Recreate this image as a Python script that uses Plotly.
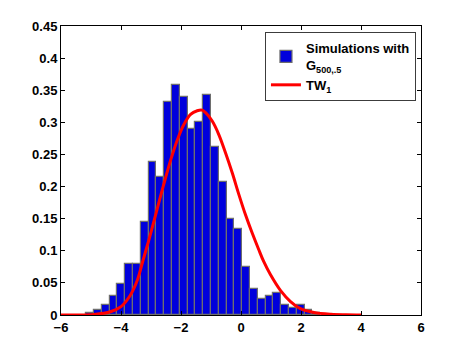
import plotly.graph_objects as go

# histogram of the simulations (density normalised), 30 bins
bin_centers = [-5.03, -4.77, -4.51, -4.25, -3.99, -3.73, -3.47, -3.21, -2.95, -2.69,
               -2.43, -2.17, -1.91, -1.65, -1.39, -1.13, -0.87, -0.61, -0.35, -0.09,
               0.17, 0.43, 0.69, 0.95, 1.21, 1.47, 1.73, 1.99, 2.25, 2.51]
bin_heights = [0.0038, 0.0077, 0.0154, 0.030, 0.049, 0.080, 0.080, 0.145, 0.238, 0.215,
               0.331, 0.358, 0.339, 0.289, 0.300, 0.343, 0.262, 0.207, 0.150, 0.134,
               0.0755, 0.041, 0.025, 0.030, 0.034, 0.0154, 0.0115, 0.0154, 0.0077, 0.0038]
bin_width = 0.26

# Tracy-Widom TW1 density
tw_x = [-6, -5.5, -4.9, -4.35, -4.0, -3.7, -3.45, -3.26, -3.07, -2.89, -2.71, -2.53,
        -2.34, -2.12, -1.9, -1.68, -1.46, -1.3, -1.18, -0.96, -0.74, -0.52, -0.29,
        -0.07, 0.15, 0.37, 0.59, 0.76, 0.98, 1.32, 1.65, 1.98, 2.43, 3.0, 3.5, 4.0]
tw_y = [0, 0.0001, 0.0008, 0.005, 0.013, 0.030, 0.055, 0.086, 0.117, 0.148, 0.180, 0.211,
        0.242, 0.273, 0.297, 0.3125, 0.318, 0.319, 0.315, 0.302, 0.281, 0.253, 0.221,
        0.1875, 0.156, 0.128, 0.102, 0.083, 0.063, 0.038, 0.021, 0.010, 0.004, 0.0012,
        0.0004, 0.0001]

font_bold = dict(family='Liberation Sans, Arial, sans-serif', size=13, color='black', weight='bold')

fig = go.Figure()

fig.add_trace(go.Bar(x=bin_centers, y=bin_heights, width=bin_width,
                     marker=dict(color='rgb(0,0,220)', line=dict(color='rgb(110,110,110)', width=1.2)),
                     name='Simulations with<br>G<sub>500,.5</sub>'))

fig.add_trace(go.Scatter(x=tw_x, y=tw_y, mode='lines', line=dict(color='red', width=3, shape='spline'),
                         name='TW<sub>1</sub>'))

axis_style = dict(showline=True, linecolor='black', linewidth=1, mirror='allticks',
                  ticks='inside', ticklen=4, tickcolor='black', showgrid=False,
                  zeroline=False, tickfont=font_bold)

fig.update_xaxes(range=[-6, 6], dtick=2, tick0=-6, **axis_style)
fig.update_yaxes(range=[0, 0.45], dtick=0.05, tick0=0, **axis_style)

# the page body adds an 8px margin, so the figure is a bit smaller than the window
fig.update_layout(
    width=457, height=348,
    margin=dict(l=53, r=44, t=18, b=41),
    plot_bgcolor='white', paper_bgcolor='white',
    bargap=0,
    legend=dict(x=0.986, y=0.979, xanchor='right', yanchor='top',
                bgcolor='white', bordercolor='rgb(60,60,60)', borderwidth=1,
                font=font_bold, tracegroupgap=2, itemwidth=30),
)

fig.write_html("out.html")
